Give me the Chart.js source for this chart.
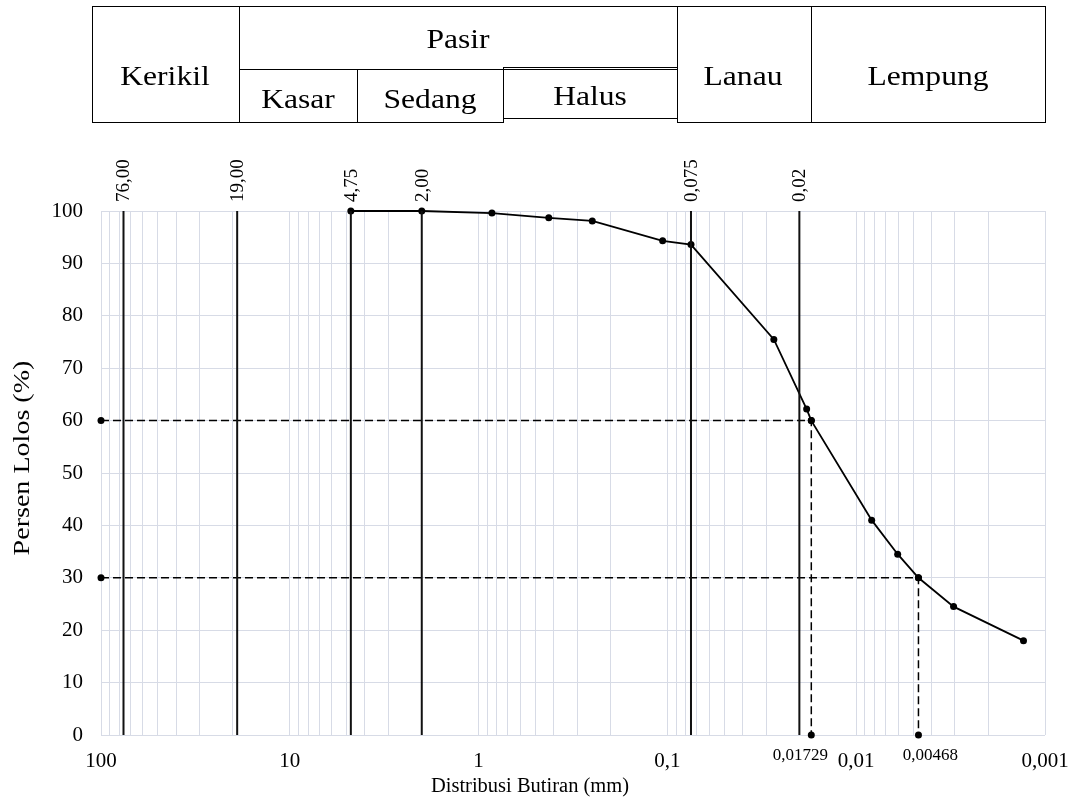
<!DOCTYPE html>
<html>
<head>
<meta charset="utf-8">
<script src="https://cdn.jsdelivr.net/npm/chart.js@4.4.0/dist/chart.umd.min.js"></script>
<style>
  html, body { margin: 0; padding: 0; background: #fff; }
  #wrap { position: relative; width: 1077px; height: 801px; overflow: hidden; }
  #grain { position: absolute; left: 0; top: 0; }
  .box { position: absolute; border: 1px solid #000; box-sizing: border-box; }
  .lbl {
    position: absolute; white-space: nowrap; line-height: 1; color: #000;
    font-family: "Liberation Serif", "Times New Roman", serif; font-size: 27px;
    transform: translate(-50%, -50%) scaleX(1.17);
  }
</style>
</head>
<body>
<div id="wrap">
  <canvas id="grain" width="1077" height="801"></canvas>
  <div id="table"></div>
</div>
<script>
// grain size distribution (mm) and percent passing
const sieveSizes = [4.75, 2.00, 0.85, 0.425, 0.25, 0.106, 0.075, 0.0273, 0.0183, 0.01729, 0.00828, 0.00603, 0.00468, 0.00305, 0.0013];
const percentPassing = [100, 100, 99.6, 98.7, 98.1, 94.3, 93.6, 75.5, 62.2, 60.0, 41.0, 34.5, 30.0, 24.5, 18.0];

// soil class boundaries
const boundarySizes = [76, 19, 4.75, 2.00, 0.075, 0.02];
const boundaryLabels = ["76,00", "19,00", "4,75", "2,00", "0,075", "0,02"];

// D60 and D30
const dSizes = [0.01729, 0.00468];
const dPercents = [60, 30];
const dLabels = ["0,01729", "0,00468"];

// axis ticks
const xTickValues = [100, 10, 1, 0.1, 0.01, 0.001];
const xTickLabels = ["100", "10", "1", "0,1", "0,01", "0,001"];
const yTickStep = 10;

const gridColor = "#d7dbe6";
const serif = '"Liberation Serif", "Times New Roman", serif';

// header table above the chart
const buildTable = () => {
  const table = document.getElementById("table");
  const boxes = [
    [92, 6, 240, 123], [239, 6, 678, 70], [239, 69, 358, 123],
    [357, 69, 504, 123], [503, 67, 678, 119], [677, 6, 812, 123], [811, 6, 1046, 123],
  ];
  boxes.forEach(([x0, y0, x1, y1]) => {
    const d = document.createElement("div");
    d.className = "box";
    Object.assign(d.style, { left: x0 + "px", top: y0 + "px", width: (x1 - x0) + "px", height: (y1 - y0) + "px" });
    table.appendChild(d);
  });
  const texts = [
    ["Kerikil", 165, 76], ["Pasir", 458, 39], ["Kasar", 298, 99], ["Sedang", 430, 99],
    ["Halus", 590, 96], ["Lanau", 743, 76], ["Lempung", 928, 76],
  ];
  texts.forEach(([t, x, y]) => {
    const s = document.createElement("span");
    s.className = "lbl";
    s.textContent = t;
    Object.assign(s.style, { left: x + "px", top: y + "px" });
    table.appendChild(s);
  });
};
buildTable();

// minor + major vertical grid positions
const decades = [0.001, 0.01, 0.1, 1, 10];
const gridValues = [];
decades.forEach((d) => {
  for (let m = 1; m < 10; m++) gridValues.push(m * d);
});
gridValues.push(100);

const isMajor = (v) => xTickValues.findIndex((t) => Math.abs(Math.log10(v) - Math.log10(t)) < 1e-6);

const textPlugin = {
  id: "textPlugin",
  afterDraw(chart) {
    const { ctx, chartArea, scales: { x, y } } = chart;
    ctx.save();
    ctx.fillStyle = "#000";

    // rotated boundary labels above the plot
    ctx.font = "19px " + serif;
    ctx.textAlign = "left";
    ctx.textBaseline = "middle";
    boundarySizes.forEach((v, i) => {
      ctx.save();
      ctx.translate(x.getPixelForValue(v) + 1, chartArea.top - 9);
      ctx.rotate(-Math.PI / 2);
      ctx.fillText(boundaryLabels[i], 0, 0);
      ctx.restore();
    });

    // D60 / D30 labels
    const shifts = [-11, 12];
    ctx.font = "17px " + serif;
    ctx.textAlign = "center";
    dSizes.forEach((v, i) => {
      ctx.fillText(dLabels[i], x.getPixelForValue(v) + shifts[i], y.getPixelForValue(0) + 21);
    });

    // axis titles
    ctx.font = "20.5px " + serif;
    ctx.fillText("Distribusi Butiran (mm)", 530, 787);
    ctx.save();
    ctx.translate(23, 458);
    ctx.rotate(-Math.PI / 2);
    ctx.scale(1.22, 1);
    ctx.font = "23px " + serif;
    ctx.fillText("Persen Lolos (%)", 0, 0);
    ctx.restore();
    ctx.restore();
  },
};

const datasets = [];
boundarySizes.forEach((v) => {
  datasets.push({
    data: [{ x: v, y: 0 }, { x: v, y: 100 }],
    showLine: true, borderColor: "#111", borderWidth: 2, pointRadius: 0,
  });
});
dSizes.forEach((v, i) => {
  datasets.push({
    data: [{ x: 100, y: dPercents[i] }, { x: v, y: dPercents[i] }, { x: v, y: 0 }],
    showLine: true, borderColor: "#000", borderWidth: 1.5, borderDash: [8, 4],
    pointRadius: 3.5, pointBackgroundColor: "#000", pointBorderWidth: 0, clip: false,
  });
});
datasets.push({
  data: sieveSizes.map((s, i) => ({ x: s, y: percentPassing[i] })),
  showLine: true, borderColor: "#000", borderWidth: 1.8, clip: false,
  pointRadius: 3.5, pointBackgroundColor: "#000", pointBorderWidth: 0,
});

const ctx = document.getElementById("grain").getContext("2d");
new Chart(ctx, {
  type: "scatter",
  data: { datasets },
  plugins: [textPlugin],
  options: {
    responsive: false,
    animation: false,
    layout: { padding: { left: 0, top: 211, right: 32, bottom: 0 } },
    plugins: { legend: { display: false }, tooltip: { enabled: false } },
    elements: { line: { tension: 0 } },
    scales: {
      x: {
        type: "logarithmic",
        reverse: true,
        min: 0.001,
        max: 100,
        afterBuildTicks: (scale) => {
          scale.ticks = gridValues.map((v) => ({ value: v }));
        },
        afterFit: (scale) => { scale.height = 66; },
        ticks: {
          autoSkip: false,
          maxRotation: 0,
          padding: 14,
          color: "#000",
          font: { family: serif, size: 21 },
          callback: (v) => {
            const k = isMajor(v);
            return k >= 0 ? xTickLabels[k] : "";
          },
        },
        grid: { color: gridColor, drawTicks: false },
        border: { display: false },
      },
      y: {
        min: 0,
        max: 100,
        afterFit: (scale) => { scale.width = 101; },
        ticks: {
          stepSize: yTickStep,
          padding: 18,
          color: "#000",
          font: { family: serif, size: 21 },
        },
        grid: { color: gridColor, drawTicks: false },
        border: { display: false },
      },
    },
  },
});
</script>
</body>
</html>
